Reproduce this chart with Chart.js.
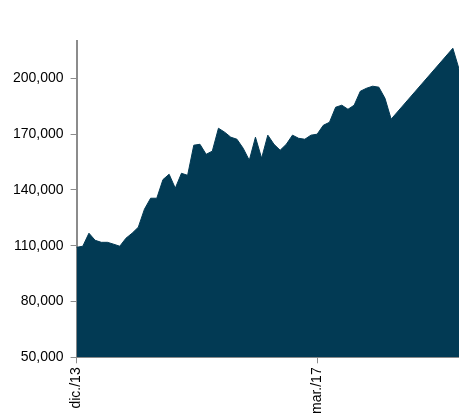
<!DOCTYPE html>
<html>
<head>
<meta charset="utf-8">
<script src="https://cdn.jsdelivr.net/npm/chart.js@4"></script>
<style>
  html, body { margin: 0; padding: 0; background: #fff; }
  #wrap { width: 459px; height: 420px; }
</style>
</head>
<body>
<div id="wrap"><canvas id="chart"></canvas></div>
<script>
// meses en formato mmm./yy, de dic./13 a feb./19
const monthNames = ['ene.', 'feb.', 'mar.', 'abr.', 'may.', 'jun.', 'jul.', 'ago.', 'sept.', 'oct.', 'nov.', 'dic.'];
const shownLabels = ['dic./13', 'mar./17'];
const yTicks = [50000, 80000, 110000, 140000, 170000, 200000];
const values = [
  109100, 109700, 116700, 112900, 111800, 111800, 110800, 109700, 114000, 116700,
  119900, 129600, 135500, 135500, 145500, 148400, 140900, 148900, 147800, 164000,
  164500, 159100, 160800, 173100, 171000, 168300, 167200, 162400, 155900, 168300,
  157000, 169400, 164500, 161300, 164500, 169400, 167700, 167200, 169400, 169900,
  174700, 176300, 184400, 185500, 183300, 185500, 193000, 194600, 195700, 195200,
  189200, 178000, null, null, null, null, null, null, null, null,
  null, 216100, 205000
];

const labels = [];
let m = 11, y = 13;
for (let i = 0; i < values.length; i++) {
  labels.push(monthNames[m] + '/' + y);
  m++;
  if (m > 11) { m = 0; y++; }
}

const axisGray = '#8c8c8c';
const fillColor = '#023a54';

function newChart(id) {
  const ctx = document.getElementById(id).getContext('2d');
  return new Chart(ctx, {
    type: 'line',
    data: {
      labels: labels,
      datasets: [{
        data: values,
        fill: 'start',
        backgroundColor: fillColor,
        borderColor: fillColor,
        borderWidth: 1,
        pointRadius: 0,
        tension: 0,
        spanGaps: true
      }]
    },
    options: {
      responsive: true,
      maintainAspectRatio: false,
      animation: false,
      layout: { padding: { top: 41, left: 6, right: 0, bottom: 2 } },
      plugins: {
        legend: { display: false },
        tooltip: { enabled: false }
      },
      scales: {
        x: {
          offset: false,
          border: { color: axisGray, width: 2 },
          grid: {
            drawOnChartArea: false,
            tickLength: 6,
            color: function(c) {
              return shownLabels.includes(labels[c.index]) ? axisGray : 'rgba(0,0,0,0)';
            }
          },
          afterFit: function(scale) {
            scale.paddingRight = 0;  // que el área llegue hasta el borde
          },
          ticks: {
            autoSkip: false,
            minRotation: 90,
            maxRotation: 90,
            padding: 4,
            color: '#000',
            font: { family: 'Liberation Sans', size: 14 },
            callback: function(v, i) {
              return shownLabels.includes(labels[i]) ? labels[i] : '';
            }
          }
        },
        y: {
          min: 50000,
          max: 220000,
          border: { color: axisGray, width: 2 },
          grid: { drawOnChartArea: false, tickLength: 6, color: axisGray },
          afterBuildTicks: function(scale) {
            scale.ticks = yTicks.map(v => ({ value: v }));
          },
          ticks: {
            padding: 7,
            color: '#000',
            font: { family: 'Liberation Sans', size: 14 },
            callback: v => v.toLocaleString('en-US')
          }
        }
      }
    }
  });
}

newChart('chart');
</script>
</body>
</html>
